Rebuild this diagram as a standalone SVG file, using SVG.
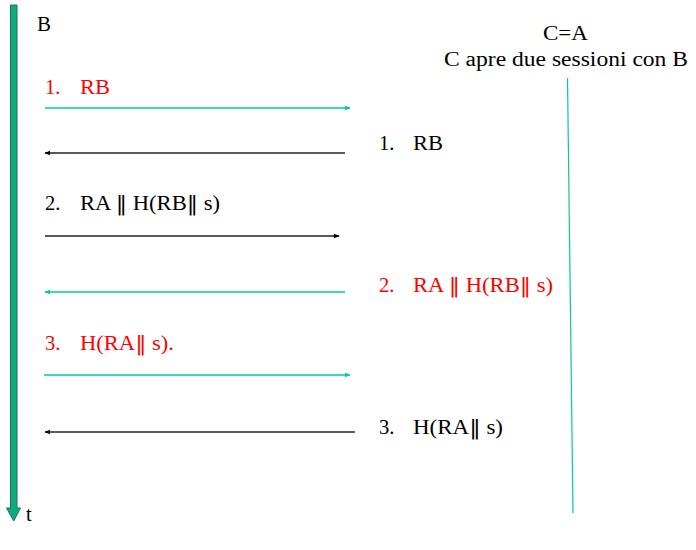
<svg xmlns="http://www.w3.org/2000/svg" width="696" height="550" viewBox="0 0 696 550">
<style>
text{font-family:"Liberation Serif","Times New Roman",serif;font-size:20.5px;fill:#000}
.red{fill:#ff0000}
.bar{font-family:"DejaVu Serif",serif;font-weight:normal}
.teal{stroke:#00cc99;stroke-width:1.3;fill:none}
.blk{stroke:#222;stroke-width:1.3;fill:none}
</style>
<defs>
<marker id="ht" viewBox="0 0 10 10" refX="9" refY="5" markerWidth="6" markerHeight="6" markerUnits="userSpaceOnUse" orient="auto"><path d="M0,1 L10,5 L0,9 z" fill="#00cc99"/></marker>
<marker id="hb" viewBox="0 0 10 10" refX="9" refY="5" markerWidth="6" markerHeight="6" markerUnits="userSpaceOnUse" orient="auto"><path d="M0,1 L10,5 L0,9 z" fill="#000"/></marker>
</defs>
<g id="timeline-B">
<path d="M10.5,5 H17 V508 H20.5 L13.75,521 L6.5,508 H10.5 Z" fill="#14a87e" stroke="#0b7a5c" stroke-width="1"/>
<text x="37" y="31" textLength="14" lengthAdjust="spacingAndGlyphs">B</text>
<text x="26" y="521">t</text>
</g>
<g id="timeline-C">
<line x1="567.5" y1="78" x2="573" y2="513" stroke="#00cc99" stroke-width="1.2"/>
<text x="543" y="40" textLength="45" lengthAdjust="spacingAndGlyphs">C=A</text>
<text x="444" y="66" textLength="244" lengthAdjust="spacingAndGlyphs">C apre due sessioni con B</text>
</g>
<g id="labels">
<text class="red" x="45" y="94">1.</text><text class="red" x="80" y="94" textLength="30" lengthAdjust="spacingAndGlyphs">RB</text>
<text x="379" y="150">1.</text><text x="413" y="150" textLength="30" lengthAdjust="spacingAndGlyphs">RB</text>
<text x="45" y="210">2.</text><text x="80" y="210" textLength="140" lengthAdjust="spacingAndGlyphs">RA <tspan class="bar">‖</tspan> H(RB<tspan class="bar">‖</tspan> s)</text>
<text class="red" x="379" y="292">2.</text><text class="red" x="413" y="292" textLength="140" lengthAdjust="spacingAndGlyphs">RA <tspan class="bar">‖</tspan> H(RB<tspan class="bar">‖</tspan> s)</text>
<text class="red" x="45" y="350">3.</text><text class="red" x="80" y="350" textLength="94" lengthAdjust="spacingAndGlyphs">H(RA<tspan class="bar">‖</tspan> s).</text>
<text x="379" y="434">3.</text><text x="413" y="434" textLength="90" lengthAdjust="spacingAndGlyphs">H(RA<tspan class="bar">‖</tspan> s)</text>
</g>
<g id="connectors">
<line class="teal" x1="45" y1="108" x2="350" y2="108" marker-end="url(#ht)"/>
<line class="blk" x1="345" y1="153" x2="45" y2="153" marker-end="url(#hb)"/>
<line class="blk" x1="45" y1="236" x2="339" y2="236" marker-end="url(#hb)"/>
<line class="teal" x1="345" y1="292" x2="45" y2="292" marker-end="url(#ht)"/>
<line class="teal" x1="44" y1="375" x2="350" y2="375" marker-end="url(#ht)"/>
<line class="blk" x1="355" y1="432" x2="45" y2="432" marker-end="url(#hb)"/>
</g>
</svg>
